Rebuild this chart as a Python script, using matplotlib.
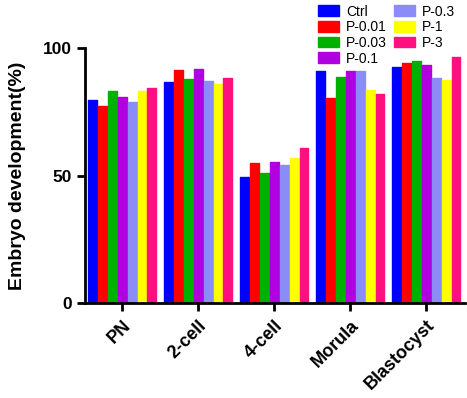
import matplotlib
matplotlib.use("Agg")
import matplotlib.pyplot as plt
import numpy as np
from matplotlib.patches import Patch

plt.rcParams['font.family'] = ['Liberation Sans', 'DejaVu Sans']

categories = ["PN", "2-cell", "4-cell", "Morula", "Blastocyst"]
series_names = ["Ctrl", "P-0.01", "P-0.03", "P-0.1", "P-0.3", "P-1", "P-3"]
colors = ["#0000FF", "#FF0000", "#00B000", "#B000E0", "#8C8CF8", "#FFFF00", "#FF1080"]

ctrl   = [79.6, 86.8, 49.3, 90.9, 92.5]
p_001  = [77.2, 91.4, 55.1, 80.6, 94.3]
p_003  = [83.3, 87.9, 51.0, 88.7, 94.9]
p_01   = [80.9, 91.7, 55.5, 90.9, 93.4]
p_03   = [79.0, 87.1, 54.3, 91.2, 88.1]
p_1    = [83.3, 85.9, 57.0, 83.4, 87.4]
p_3    = [84.2, 88.3, 60.7, 81.9, 96.7]
series = [ctrl, p_001, p_003, p_01, p_03, p_1, p_3]

fig = plt.figure(figsize=(4.67, 3.98), dpi=100)
ax = fig.add_axes([0.182, 0.239, 0.814, 0.640])

x = np.arange(len(categories))
n = len(series)
w = 0.13
for i, (vals, c, name) in enumerate(zip(series, colors, series_names)):
    ax.bar(x + (i - (n - 1) / 2) * w, vals, width=w * 0.9, color=c,
           edgecolor=c, linewidth=1.0, joinstyle='round', label=name)

ax.set_xlim(-0.49, 4.51)
ax.set_ylim(0, 100)
ax.set_yticks([0, 50, 100])
ax.set_xticks(x)
ax.set_xticklabels(categories, rotation=45, ha='right', rotation_mode='anchor',
                   fontsize=13, fontweight='bold')
for lab in ax.get_yticklabels():
    lab.set_fontsize(12.5)
    lab.set_fontweight('bold')
ax.set_ylabel("Embryo development(%)", fontsize=14, fontweight='bold', labelpad=12)

for s in ['top', 'right']:
    ax.spines[s].set_visible(False)
for s in ['left', 'bottom']:
    ax.spines[s].set_linewidth(2)
ax.tick_params(axis='both', width=2, length=6, direction='out')
ax.tick_params(axis='x', pad=4)

handles = [Patch(facecolor=c, edgecolor=c, label=nm) for c, nm in zip(colors, series_names)]
fig.legend(handles=handles, ncol=2, loc='upper left', bbox_to_anchor=(0.655, 1.02),
           frameon=False, fontsize=10, handlelength=1.5, handleheight=0.8,
           handletextpad=0.5, columnspacing=0.5, labelspacing=0.12)

fig.savefig("out.png", dpi=100)
